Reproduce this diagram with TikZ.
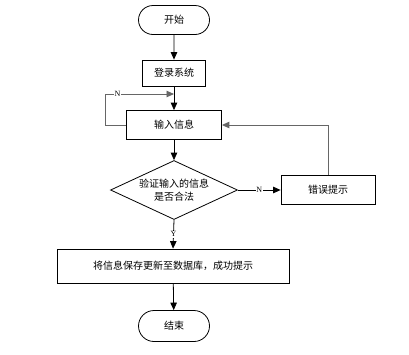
\documentclass[tikz,border=0pt]{standalone}
\usepackage{fontspec}
\setmainfont{Liberation Serif}
\newfontfamily\cjk{Noto Sans CJK SC}
\usetikzlibrary{shapes.geometric,shapes.misc,arrows.meta}
\begin{document}
\begin{tikzpicture}[x=1pt,y=-1pt,
  every node/.style={font=\cjk\fontsize{10}{12.5}\selectfont},
  box/.style={draw,thick,rectangle,inner sep=0pt},
  term/.style={draw,thick,rounded rectangle,inner sep=0pt},
  arr/.style={-{Triangle[length=7.5pt,width=6.5pt]},thick},
  garr/.style={-{Triangle[length=7.5pt,width=6.5pt]},line width=0.9pt,draw=black!60},
  lbl/.style={font=\fontsize{8}{9}\selectfont,fill=white,inner sep=0.8pt}
]
\useasboundingbox (0,0) rectangle (409,354);
\node[term,minimum width=71pt,minimum height=29pt] (start) at (174,20) {开始};
\node[box,minimum width=63pt,minimum height=26pt] (login) at (174,73) {登录系统};
\node[box,minimum width=95pt,minimum height=29pt] (input) at (174,125) {输入信息};
\node[draw,thick,inner sep=0pt,minimum width=127pt,minimum height=59pt,shape=diamond,aspect=2.15,align=center] (check) at (174,190) {验证输入的信息\\是否合法};
\node[box,minimum width=94pt,minimum height=29pt] (err) at (328,190) {错误提示};
\node[box,minimum width=232pt,minimum height=34pt] (save) at (173,266) {将信息保存更新至数据库，成功提示};
\node[term,minimum width=71pt,minimum height=31pt] (end) at (174,326) {结束};
\coordinate (loopin) at (174,94);
\draw[arr] (start) -- (login);
\draw[arr] (login) -- (input);
\draw[garr] (input.west) -- (105,125) -- (105,94) -- node[lbl,pos=0.18]{N} (loopin);
\draw[arr] (input) -- (check);
\draw[arr] (check.east) -- node[lbl,pos=0.5]{N} (err.west);
\draw[garr] (err.north) |- (input.east);
\draw[arr] (check.south) -- node[lbl,pos=0.5]{Y} (save.north);
\draw[arr] (save) -- (end);
\end{tikzpicture}
\end{document}
